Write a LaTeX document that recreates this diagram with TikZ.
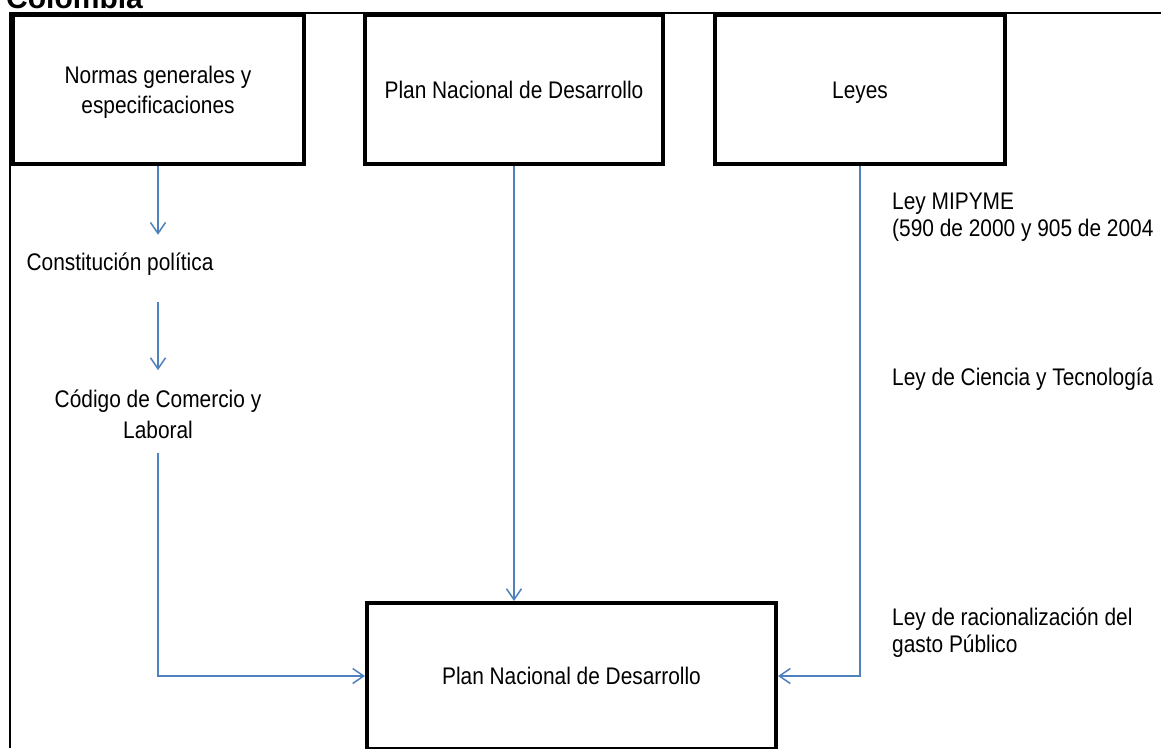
\documentclass[tikz,border=0pt]{standalone}
\usepackage{fontspec}
\setmainfont{Liberation Sans}
\newfontfamily\narrowfont{Liberation Sans}[FakeStretch=0.87]
\usetikzlibrary{arrows.meta}
\definecolor{linkblue}{RGB}{79,129,189}

\begin{document}
\begin{tikzpicture}[x=1pt,y=-1pt,
  box/.style={draw=black,line width=4pt,inner sep=0pt,align=center,font=\narrowfont\fontsize{24}{30}\selectfont},
  onebox/.style={box,text height=17pt,text depth=0pt},
  lbl/.style={inner sep=0pt,align=center,font=\narrowfont\fontsize{24}{31}\selectfont},
  side/.style={inner sep=0pt,align=left,anchor=base west,font=\narrowfont\fontsize{24}{27}\selectfont},
  link/.style={draw=linkblue,line width=1.5pt,-{Straight Barb[length=11pt,width=15pt]}}]
\path[use as bounding box] (0,0) rectangle (1161,748);
\path[fill=white,draw=none] (0,0) rectangle (1161,748);
% title, cut by the page edge
\node[anchor=base west,inner sep=0pt,font=\bfseries\fontsize{30}{36}\selectfont] (title) at (6,8) {Colombia};
\draw[line width=1.5pt] (10,748) -- (10,13) -- (1161,13);
% top row
\node[box,text depth=0pt,minimum width=291,minimum height=149] (norma) at (158,89.5) {Normas generales y\\especificaciones};
\node[onebox,minimum width=298,minimum height=149] (plan1) at (514,89.5) {Plan Nacional de Desarrollo};
\node[onebox,minimum width=290,minimum height=149] (leyes) at (860,89.5) {Leyes};
% bottom box
\node[onebox,minimum width=409,minimum height=146] (plan2) at (571.5,676) {Plan Nacional de Desarrollo};
% left chain
\node[lbl,text height=17pt,text depth=5pt] (cons) at (120,264) {Constitución política};
\node[lbl,anchor=base] (codigo) at (158,438) {Código de Comercio y\\Laboral};
% right side laws
\node[side] (mipyme) at (892,236) {Ley MIPYME\\(590 de 2000 y 905 de 2004};
\node[side] (ciencia) at (892,385) {Ley de Ciencia y Tecnología};
\node[side] (gasto) at (892,652) {Ley de racionalización del\\gasto Público};
% connectors
\draw[link,shorten >=18pt] (norma.south) -- (norma.south |- cons.north);
\draw[link,shorten <=27pt,shorten >=19pt] (norma.south |- cons.south) -- (norma.south |- codigo.north);
\draw[link,shorten <=15pt] (codigo.south) -- (codigo.south |- plan2.west) -- (plan2.west);
\draw[link] (plan1.south) -- (plan1.south |- plan2.north);
\draw[link] (leyes.south) -- (leyes.south |- plan2.east) -- (plan2.east);
\end{tikzpicture}
\end{document}
